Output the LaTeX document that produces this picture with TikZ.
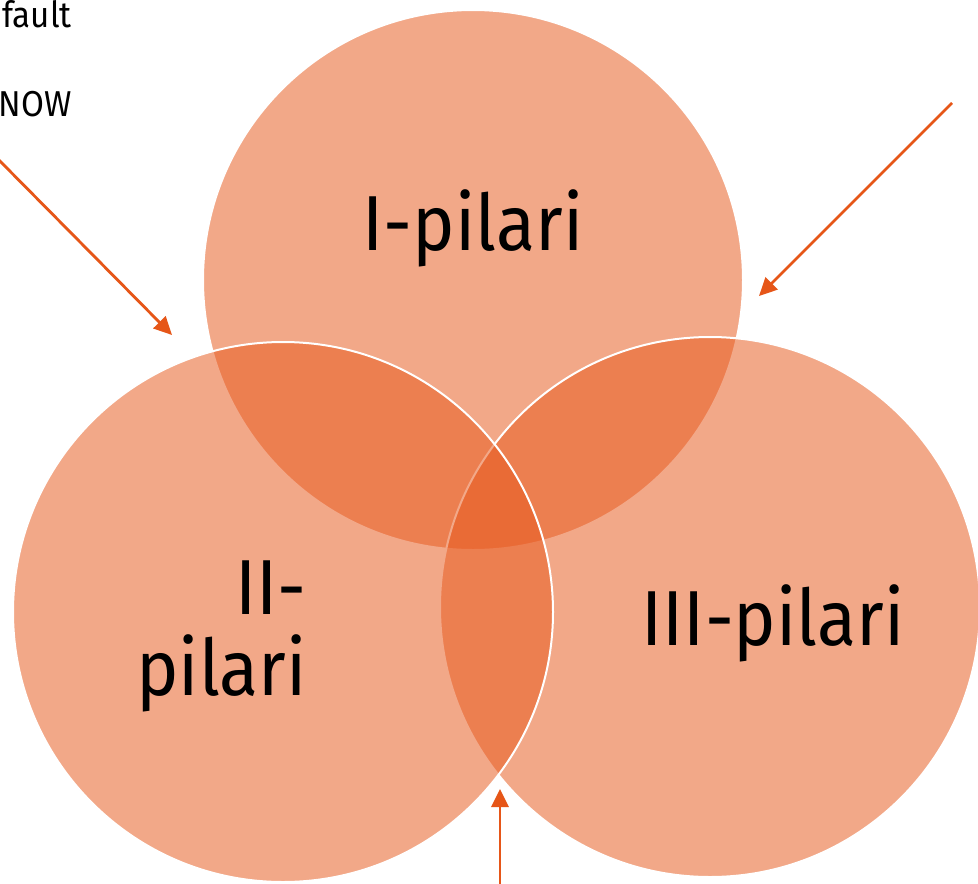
\documentclass[tikz,border=0pt]{standalone}
\usepackage{fontspec}
\setmainfont[FakeStretch=0.92]{Fira Sans}
\usetikzlibrary{arrows.meta}
\definecolor{pillar}{RGB}{232,91,32}
\definecolor{arrowc}{RGB}{230,86,24}
\tikzset{
  pillarcircle/.style={circle, minimum size=540pt, inner sep=0pt, fill=pillar, fill opacity=0.53, draw=white, line width=2pt},
  pillartext/.style={font=\fontsize{78}{78}\selectfont, inner sep=0pt, anchor=base},
  sidetext/.style={font=\fontsize{36}{36}\selectfont, inner sep=0pt, anchor=base east},
  pointer/.style={draw=arrowc, line width=2.8pt, -{Triangle[length=18pt,width=17pt]}}
}
\begin{document}
\begin{tikzpicture}[x=1pt,y=-1pt]
\useasboundingbox (0,0) rectangle (978,884);
\fill[white] (0,0) rectangle (978,884);
% circles
\node[pillarcircle] (top) at (473,280) {};
\node[pillarcircle] (right) at (710,607) {};
\node[pillarcircle] (left) at (283,612) {};
% labels
\node[pillartext] (t1) at (473,250) {I-pilari};
\node[pillartext, align=right, anchor=base east] (t2) at (307,695) {II-\hspace{7pt}\\[3pt]pilari};
\node[pillartext] (t3) at (773,645) {III-pilari};
% side text (cut off at the left edge as in the reference)
\node[sidetext] (s1) at (72,27) {fault};
\node[sidetext] (s2) at (72,116) {NOW};
% arrows
\coordinate (a1s) at (-10,151);
\coordinate (a1e) at (172,335);
\coordinate (a2s) at (952,103);
\coordinate (a2e) at (759,296);
\coordinate (a3s) at (500,890);
\coordinate (a3e) at (500,789);
\draw[pointer] (a1s) -- (a1e);
\draw[pointer] (a2s) -- (a2e);
\draw[pointer] (a3s) -- (a3e);
\end{tikzpicture}
\end{document}
